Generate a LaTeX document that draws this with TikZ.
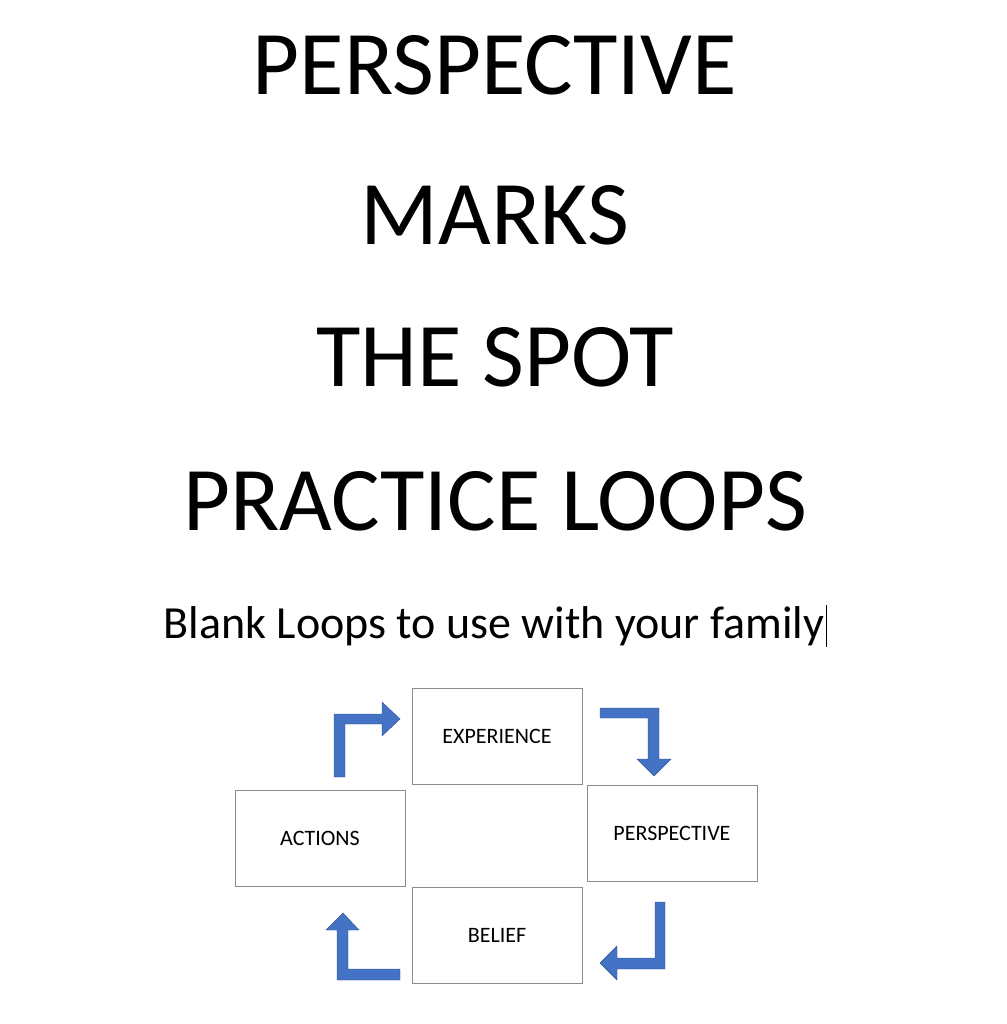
\documentclass[tikz,border=0pt]{standalone}
\usepackage{fontspec}
\setmainfont{Carlito}
\begin{document}
\begin{tikzpicture}[x=1pt,y=-1pt,
  box/.style={draw=black!45,line width=0.8pt,minimum width=170pt,minimum height=96pt,inner sep=0pt,font=\fontsize{22}{26}\selectfont},
  title/.style={anchor=base,font=\fontsize{91}{100}\selectfont}]
\useasboundingbox (0,0) rectangle (1006,1024);
\tikzset{arr/.style={fill={rgb,255:red,68;green,114;blue,196},draw={rgb,255:red,47;green,82;blue,143},line width=0.4pt}}
\node[title] (t1) at (495,95) {PERSPECTIVE};
\node[title] (t2) at (495,244) {MARKS};
\node[title] (t3) at (495,386) {THE SPOT};
\node[title] (t4) at (495,530) {PRACTICE LOOPS};
\node[anchor=base,font=\fontsize{46}{52}\selectfont] (sub) at (494,638) {Blank Loops to use with your family};
\draw[line width=0.8pt] (826,605) -- (826,647);
\node[box] (exp) at (497,736) {EXPERIENCE};
\node[box] (per) at (672,833) {PERSPECTIVE};
\node[box] (act) at (320,838) {ACTIONS};
\node[box] (bel) at (497,935) {BELIEF};
% top-left arrow
\filldraw[arr] (334,777) -- (334,714) -- (382,714) -- (382,702) -- (400,719) -- (382,736) -- (382,724) -- (345,724) -- (345,777) -- cycle;
% top-right arrow
\filldraw[arr] (600,708) -- (659,708) -- (659,759) -- (671,759) -- (654,776) -- (637,759) -- (648,759) -- (648,718) -- (600,718) -- cycle;
% bottom-right arrow
\filldraw[arr] (665,902) -- (665,969) -- (617,969) -- (617,980) -- (600,963) -- (617,946) -- (617,958) -- (655,958) -- (655,902) -- cycle;
% bottom-left arrow
\filldraw[arr] (400,980) -- (337,980) -- (337,930) -- (326,930) -- (343,913) -- (359,930) -- (348,930) -- (348,969) -- (400,969) -- cycle;
\end{tikzpicture}
\end{document}
